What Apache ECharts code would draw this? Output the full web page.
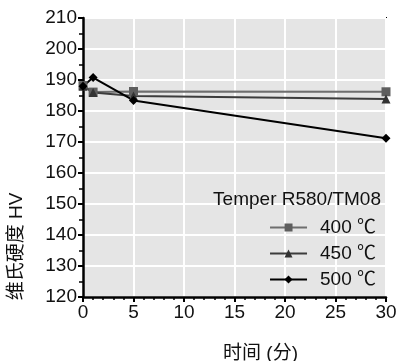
<!DOCTYPE html>
<html>
<head>
<meta charset="utf-8">
<script src="https://cdn.jsdelivr.net/npm/echarts@6/dist/echarts.min.js"></script>
<style>
  html, body { margin: 0; padding: 0; background: #fff; }
  #main { width: 398px; height: 361px; }
</style>
</head>
<body>
<div id="main"></div>
<script>
// time in minutes, hardness HV
const times = [0, 1, 5, 30];
const hv400 = [188.2, 186.1, 186.3, 186.2];
const hv450 = [188.0, 186.0, 184.8, 183.9];
const hv500 = [188.0, 190.8, 183.4, 171.2];
const seriesNames = ['400 ℃', '450 ℃', '500 ℃'];
const legendTitle = 'Temper R580/TM08';

const font = 'Liberation Sans, Arial, Noto Sans CJK SC, sans-serif';
const pairs = arr => times.map((t, i) => [t, arr[i]]);

const chart = echarts.init(document.getElementById('main'));
chart.setOption({
  animation: false,
  backgroundColor: '#fff',
  grid: {
    left: 83, right: 12, top: 18, bottom: 64,
    outerBoundsMode: 'none',
    show: true, backgroundColor: '#e5e5e5', borderColor: '#000', borderWidth: 2
  },
  legend: {
    orient: 'vertical',
    right: 17, top: 213,
    itemWidth: 37, itemHeight: 10, itemGap: 7,
    textStyle: { fontSize: 19, fontFamily: font, color: '#111', padding: [0, 0, 0, 8] },
    data: seriesNames
  },
  graphic: [{
    type: 'text', right: 17, top: 190, z: 100,
    style: { text: legendTitle, font: '19px ' + font, fill: '#111' }
  }],
  xAxis: {
    type: 'value', min: 0, max: 30, interval: 5,
    name: '时间 (分)', nameLocation: 'middle', nameGap: 47,
    nameTextStyle: { fontSize: 19, fontFamily: font, color: '#111', padding: [0, 0, 0, 52] },
    axisLine: { onZero: false, lineStyle: { color: '#000', width: 2.5 } },
    axisTick: { length: 5, lineStyle: { color: '#000', width: 2 } },
    minorTick: { show: true, splitNumber: 5, length: 3, lineStyle: { color: '#000', width: 1.5 } },
    axisLabel: { fontSize: 19, fontFamily: font, color: '#111', margin: 6 },
    splitLine: { lineStyle: { color: '#fff', width: 2 } }
  },
  yAxis: {
    type: 'value', min: 120, max: 210, interval: 10,
    name: '维氏硬度 HV', nameLocation: 'middle', nameGap: 57,
    nameTextStyle: { fontSize: 19, fontFamily: font, color: '#111', padding: [0, 178, 0, 0] },
    axisLine: { lineStyle: { color: '#000', width: 2.5 } },
    axisTick: { length: 5, lineStyle: { color: '#000', width: 2 } },
    minorTick: { show: true, splitNumber: 2, length: 4, lineStyle: { color: '#000', width: 1.5 } },
    axisLabel: { fontSize: 19, fontFamily: font, color: '#111', margin: 6 },
    splitLine: { lineStyle: { color: '#fff', width: 2 } }
  },
  series: [
    {
      name: seriesNames[0], type: 'line', data: pairs(hv400),
      symbol: 'rect', symbolSize: 9,
      lineStyle: { color: '#6e6e6e', width: 2 },
      itemStyle: { color: '#5e5e5e' }
    },
    {
      name: seriesNames[1], type: 'line', data: pairs(hv450),
      symbol: 'triangle', symbolSize: 9,
      lineStyle: { color: '#3c3c3c', width: 2 },
      itemStyle: { color: '#333' }
    },
    {
      name: seriesNames[2], type: 'line', data: pairs(hv500),
      symbol: 'diamond', symbolSize: 9,
      lineStyle: { color: '#000', width: 2 },
      itemStyle: { color: '#000' }
    }
  ]
});
</script>
</body>
</html>
